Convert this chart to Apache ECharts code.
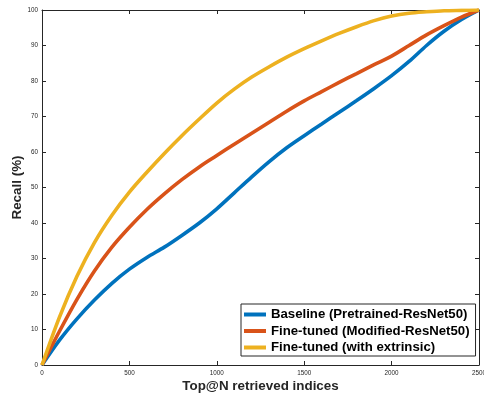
<!DOCTYPE html>
<html>
<head>
<meta charset="utf-8">
<script src="https://cdn.jsdelivr.net/npm/echarts@6/dist/echarts.min.js"></script>
<style>
html,body{margin:0;padding:0;background:#fff;}
#chart{width:484px;height:399px;}
</style>
</head>
<body>
<div id="chart"></div>
<script>
var topN = [0,100,200,300,400,500,600,700,800,900,1000,1100,1200,1300,1400,1500,1600,1700,1800,1900,2000,2100,2200,2300,2400,2500];
var baseline = [0,7,13,18.3,23,27,30.3,33.2,36.5,40,44,48.5,53,57.3,61.2,64.6,67.9,71.2,74.5,77.9,81.5,85.5,90,94,97.3,100];
var fineTunedModified = [0,9.5,18.5,26.5,33.2,38.8,43.8,48.2,52.2,55.8,59,62.2,65.3,68.4,71.5,74.4,77,79.6,82.1,84.6,87,90,93,95.6,98,100];
var fineTunedExtrinsic = [0,13.5,25,34.5,42.2,48.7,54.3,59.6,64.6,69.3,73.8,77.7,81.1,84,86.7,89.1,91.3,93.4,95.3,97,98.3,99.1,99.5,99.8,99.9,100];
var seriesNames = ['Baseline (Pretrained-ResNet50)','Fine-tuned (Modified-ResNet50)','Fine-tuned (with extrinsic)'];
var seriesColors = ['#0072BD','#D95319','#EDB120'];
var xTicks = [0,500,1000,1500,2000,2500];
var yTicks = [0,10,20,30,40,50,60,70,80,90,100];

function pairs(ys){ return topN.map(function(x,i){ return [x, ys[i]]; }); }
var allData = [baseline, fineTunedModified, fineTunedExtrinsic];

var axisColor = '#262626';
var font = 'Liberation Sans, Arial, Helvetica, sans-serif';

var chart = echarts.init(document.getElementById('chart'), null, {renderer:'canvas'});
var series = allData.map(function(d,i){
  return {
    name: seriesNames[i], type:'line', data: pairs(d), xAxisIndex:0, yAxisIndex:0,
    showSymbol:false, symbol:'none', smooth:0.3,
    lineStyle:{color:seriesColors[i], width:3.6},
    itemStyle:{color:seriesColors[i]}, animation:false
  };
});
var baseAxis = {
  axisLine:{show:true, onZero:false, lineStyle:{color:axisColor, width:1}},
  axisTick:{show:true, inside:true, length:4, lineStyle:{color:axisColor, width:1}},
  splitLine:{show:false}
};
chart.setOption({
  animation:false,
  backgroundColor:'#ffffff',
  grid:{left:42, top:10, right:5, bottom:34, containLabel:false, outerBoundsMode:'none'},
  legend:{
    show:true, left:241, top:304, orient:'vertical',
    data: seriesNames.map(function(n){return {name:n, icon:'path://M0,0 H22 V4 H0 Z'};}),
    itemWidth:22, itemHeight:14, itemGap:3.5,
    padding:[4,6,2,3],
    backgroundColor:'#ffffff', borderColor:axisColor, borderWidth:1, borderRadius:0,
    textStyle:{fontFamily:font, fontWeight:'bold', fontSize:13.2, color:'#000000'},
    selectedMode:false
  },
  xAxis:[
    Object.assign({}, baseAxis, {
      type:'value', position:'bottom', min:0, max:2500, interval:500,
      axisLabel:{show:true, margin:5, fontSize:6.3, color:axisColor, fontFamily:font,
        formatter:function(v){ return xTicks.indexOf(v)>=0 ? String(v) : ''; }, showMaxLabel:true, showMinLabel:true},
      name:'Top@N retrieved indices', nameLocation:'middle', nameGap:15, nameMoveOverlap:false,
      nameTextStyle:{fontFamily:font, fontWeight:'bold', fontSize:13.4, color:axisColor}
    }),
    Object.assign({}, baseAxis, {
      type:'value', position:'top', min:0, max:2500, interval:500, axisLabel:{show:false}
    })
  ],
  yAxis:[
    Object.assign({}, baseAxis, {
      type:'value', position:'left', min:0, max:100, interval:10,
      axisLabel:{show:true, margin:4, fontSize:6.3, color:axisColor, fontFamily:font,
        formatter:function(v){ return yTicks.indexOf(v)>=0 ? String(v) : ''; }},
      name:'Recall (%)', nameLocation:'middle', nameGap:18, nameRotate:90, nameMoveOverlap:false,
      nameTextStyle:{fontFamily:font, fontWeight:'bold', fontSize:13.4, color:axisColor}
    }),
    Object.assign({}, baseAxis, {
      type:'value', position:'right', min:0, max:100, interval:10, axisLabel:{show:false}
    })
  ],
  series: series
});
</script>
</body>
</html>
